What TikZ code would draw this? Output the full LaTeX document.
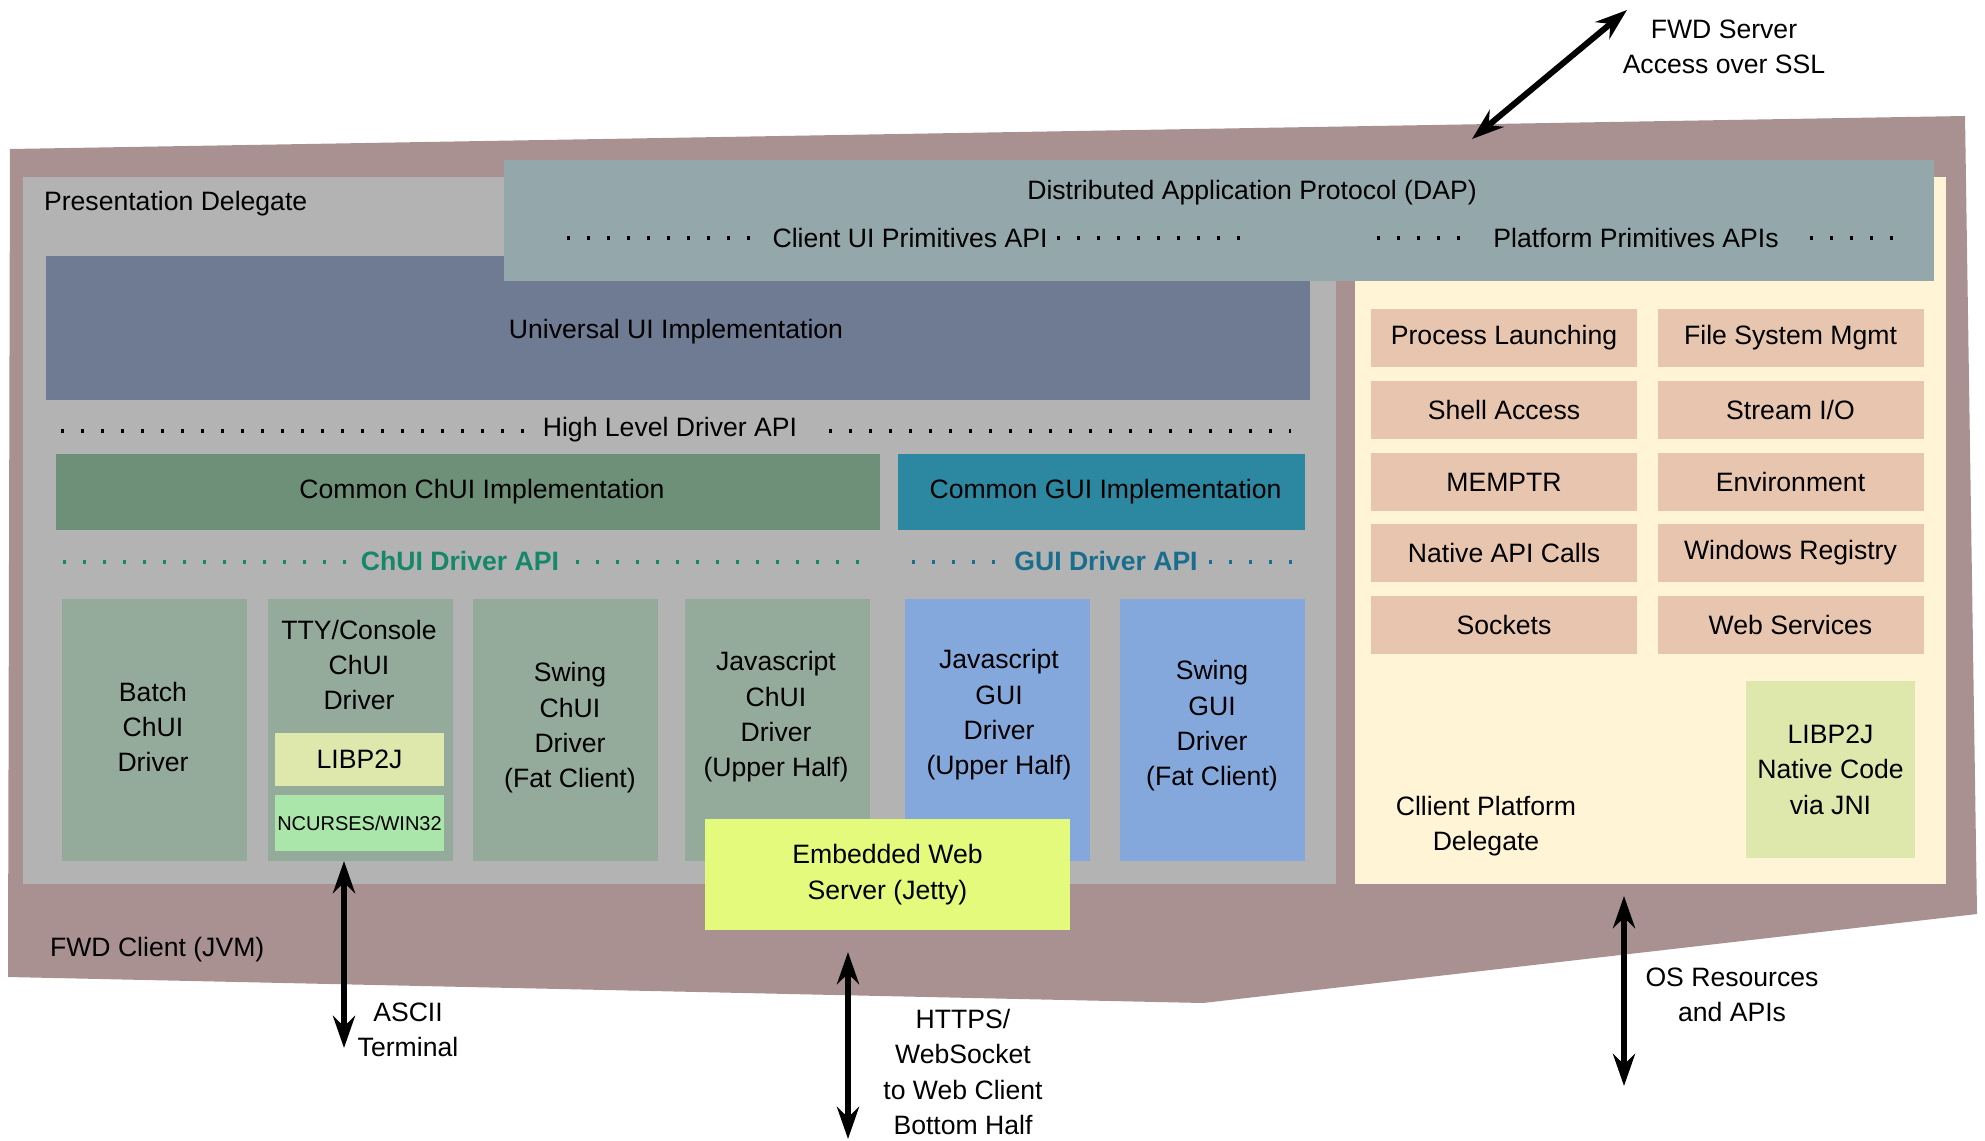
\documentclass[tikz,border=0pt]{standalone}
\usepackage{fontspec}
\setmainfont{Liberation Sans}
\usetikzlibrary{arrows.meta}

\definecolor{jvm}{RGB}{170,145,145}
\definecolor{presgray}{RGB}{179,179,179}
\definecolor{dapcol}{RGB}{148,167,170}
\definecolor{univcol}{RGB}{110,123,147}
\definecolor{chuicol}{RGB}{110,144,121}
\definecolor{guicol}{RGB}{44,135,161}
\definecolor{chuidrv}{RGB}{148,171,155}
\definecolor{guidrv}{RGB}{133,168,220}
\definecolor{cream}{RGB}{255,245,214}
\definecolor{peach}{RGB}{232,197,174}
\definecolor{libcol}{RGB}{222,232,173}
\definecolor{cursescol}{RGB}{170,230,170}
\definecolor{jettycol}{RGB}{228,250,125}
\definecolor{chuiapi}{RGB}{22,135,105}
\definecolor{guiapi}{RGB}{25,110,142}

\begin{document}
\begin{tikzpicture}[x=0.5pt, y=-0.5pt, font=\fontsize{13.3pt}{17.7pt}\selectfont,
  blk/.style={rectangle, inner sep=0pt, align=center},
  drv/.style={blk, minimum width=92.5pt, minimum height=131pt},
  svc/.style={blk, fill=peach, minimum width=133pt, minimum height=29pt},
  dotline/.style={line width=1.6pt, dash pattern=on 1.6pt off 8.4pt},
  dbl/.style={{Stealth[length=16pt,width=11pt]}-{Stealth[length=16pt,width=11pt]}, line width=3pt}]
\useasboundingbox (0,0) rectangle (1985,1140);

% the client JVM
\fill[jvm] (10,149) -- (1965,116) -- (1977,914) -- (1203,1003) -- (8,977) -- cycle;
\node[anchor=west] (jvmlbl) at (43,950) {FWD Client (JVM)};

% the two delegates
\node[blk, fill=presgray, minimum width=656.5pt, minimum height=353.5pt] (pres) at (679.5,530.5) {};
\node[blk, fill=cream, minimum width=295.5pt, minimum height=353.5pt] (plat) at (1650.5,530.5) {};
\node[anchor=west] (preslbl) at (37,204) {Presentation Delegate};

% universal UI and the protocol
\node[blk, fill=univcol, minimum width=632pt, minimum height=72pt] (univ) at (678,328) {};
\node (univlbl) at (676,332) {Universal UI Implementation};
\node[blk, fill=dapcol, minimum width=715pt, minimum height=60.5pt] (dap) at (1219,220.5) {};
\node (daplbl) at (1252,193) {Distributed Application Protocol (DAP)};
\node (cuiapi) at (910,238) {Client UI Primitives API};
\node (platapi) at (1636,238) {Platform Primitives APIs};
\draw[dotline] (567,238) -- (760,238);
\draw[dotline] (1057,238) -- (1253,238);
\draw[dotline] (1377,238) -- (1475,238);
\draw[dotline] (1810,238) -- (1905,238);

% high level driver API
\node (hlapi) at (670,430) {High Level Driver API};
\draw[dotline] (61,431) -- (525,431);
\draw[dotline] (829,431) -- (1291,431);

% common implementations
\node[blk, fill=chuicol, minimum width=412pt, minimum height=38pt] (cchui) at (468,492) {\hspace{14pt}Common ChUI Implementation};
\node[blk, fill=guicol, minimum width=203.5pt, minimum height=38pt] (cgui) at (1101.5,492) {\hspace{4pt}Common GUI Implementation};

% driver APIs
\node[text=chuiapi, font=\fontsize{13.3pt}{17.7pt}\selectfont\bfseries] (chuiapilbl) at (460,561) {ChUI Driver API};
\draw[dotline, chuiapi] (63,562) -- (348,562);
\draw[dotline, chuiapi] (576,562) -- (874,562);
\node[text=guiapi, font=\fontsize{13.3pt}{17.7pt}\selectfont\bfseries] (guiapilbl) at (1106,561) {GUI Driver API};
\draw[dotline, guiapi] (912,562) -- (1006,562);
\draw[dotline, guiapi] (1209,562) -- (1304,562);

% drivers
\node[drv, fill=chuidrv] (batch) at (154.5,730) {};
\node[align=center] (batchlbl) at (153,727) {Batch\\ChUI\\Driver};
\node[drv, fill=chuidrv] (tty) at (360.5,730) {};
\node[align=center] (ttylbl) at (359,665) {TTY/Console\\ChUI\\Driver};
\node[blk, fill=libcol, minimum width=84.5pt, minimum height=26.5pt] (lib) at (359.5,759.5) {LIBP2J};
\node[blk, fill=cursescol, minimum width=84.5pt, minimum height=28pt, font=\fontsize{10pt}{12pt}\selectfont] (curses) at (359.5,823) {NCURSES/WIN32};
\node[drv, fill=chuidrv] (swchui) at (565.5,730) {};
\node[align=center] (swchuilbl) at (570,728) {Swing\\ChUI\\Driver\\(Fat Client)};
\node[drv, fill=chuidrv] (jschui) at (777.5,730) {};
\node[align=center] (jschuilbl) at (776,717) {Javascript\\ChUI\\Driver\\(Upper Half)};
\node[drv, fill=guidrv] (jsgui) at (997.5,730) {};
\node[align=center] (jsguilbl) at (999,715) {Javascript\\GUI\\Driver\\(Upper Half)};
\node[drv, fill=guidrv] (swgui) at (1212.5,730) {};
\node[align=center] (swguilbl) at (1212,726) {Swing\\GUI\\Driver\\(Fat Client)};

% web server
\node[blk, fill=jettycol, minimum width=182.5pt, minimum height=55.5pt] (jetty) at (887.5,874.5) {Embedded Web\\Server (Jetty)};

% platform services
\foreach \y/\ltext/\rtext [count=\i] in {
338/Process Launching/File System Mgmt,
410/Shell Access/{Stream I/O},
482/MEMPTR/Environment,
553/Native API Calls/Windows Registry,
625/Sockets/Web Services}
{
\node[svc] (svcl\i) at (1504,\y) {\ltext};
\node[svc] (svcr\i) at (1790.5,\y) {\rtext};
}
\node[blk, fill=libcol, minimum width=84.5pt, minimum height=88.5pt] (jni) at (1830.5,769.5) {LIBP2J\\Native Code\\via JNI};
\node[align=center] (platlbl) at (1486,826) {Cllient Platform\\Delegate};

% outside connections
\coordinate (srvend) at (1627,10);
\coordinate (jvmtop) at (1472,139);
\draw[dbl] (jvmtop) -- (srvend);
\node[align=center] (srvlbl) at (1724,47) {FWD Server\\Access over SSL};

\coordinate (ttybot) at (344,861);
\coordinate (termend) at (344,1048);
\draw[dbl] (ttybot) -- (termend);
\node[align=center] (termlbl) at (408,1030) {ASCII\\Terminal};

\coordinate (jettybot) at (848,952);
\coordinate (webend) at (848,1139);
\draw[dbl] (jettybot) -- (webend);
\node[align=center] (weblbl) at (963,1072) {HTTPS/\\WebSocket\\to Web Client\\Bottom Half};

\coordinate (platbot) at (1624,896);
\coordinate (osend) at (1624,1086);
\draw[dbl] (platbot) -- (osend);
\node[align=center] (oslbl) at (1732,995) {OS Resources\\and APIs};
\end{tikzpicture}
\end{document}
